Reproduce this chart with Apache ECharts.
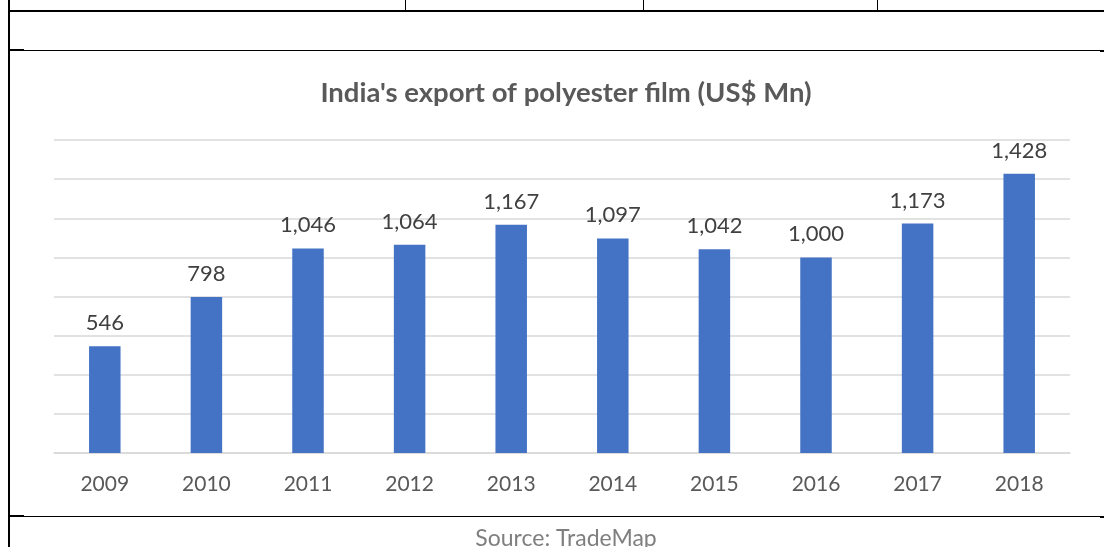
<!DOCTYPE html>
<html>
<head>
<meta charset="utf-8">
<script src="https://cdn.jsdelivr.net/npm/echarts@6/dist/echarts.min.js"></script>
<style>
  html, body { margin: 0; padding: 0; background: #fff; }
  #box { position: absolute; left: 0; top: 0; width: 1104px; height: 547px; }
  .ln { position: absolute; background: #000; }
</style>
</head>
<body>
<div id="box"></div>
<!-- table frame around the chart -->
<div class="ln" style="left:8px;top:0;width:2px;height:547px"></div>
<div class="ln" style="left:405px;top:0;width:1px;height:11px"></div>
<div class="ln" style="left:643px;top:0;width:1px;height:11px"></div>
<div class="ln" style="left:877px;top:0;width:1px;height:11px"></div>
<div class="ln" style="left:8px;top:10px;width:1096px;height:2px"></div>
<div class="ln" style="left:8px;top:50px;width:1096px;height:1px"></div>
<div class="ln" style="left:8px;top:49px;width:16px;height:2px"></div>
<div class="ln" style="left:1100px;top:50px;width:4px;height:2px"></div>
<div class="ln" style="left:8px;top:516px;width:1096px;height:1px"></div>
<div class="ln" style="left:8px;top:515px;width:16px;height:2px"></div>
<div class="ln" style="left:1100px;top:516px;width:4px;height:2px"></div>
<script>
var years = ['2009', '2010', '2011', '2012', '2013', '2014', '2015', '2016', '2017', '2018']
var exportsMn = [546, 798, 1046, 1064, 1167, 1097, 1042, 1000, 1173, 1428]

var chart = echarts.init(document.getElementById('box'), null, { renderer: 'canvas' })
var option = {
  backgroundColor: 'transparent',
  animation: false,
  title: [
    {
      text: "India's export of polyester film (US$ Mn)",
      left: 561,
      textAlign: 'center',
      top: 74,
      textStyle: { fontFamily: 'Lato', fontWeight: 'bold', fontSize: 27.5, color: '#595959' }
    },
    {
      text: 'Source: TradeMap',
      left: 561,
      textAlign: 'center',
      top: 522,
      textStyle: { fontFamily: 'Lato', fontWeight: 'normal', fontSize: 23, color: '#7f7f7f' }
    }
  ],
  grid: { left: 54, right: 34, top: 140, bottom: 94, containLabel: false },
  xAxis: {
    type: 'category',
    data: years,
    axisTick: { show: false },
    axisLine: { lineStyle: { color: '#d9d9d9', width: 1.5 } },
    axisLabel: { color: '#595959', fontFamily: 'Lato', fontSize: 21, margin: 21 }
  },
  yAxis: {
    type: 'value',
    min: 0,
    max: 1600,
    interval: 200,
    axisLabel: { show: false },
    axisLine: { show: false },
    axisTick: { show: false },
    splitLine: { lineStyle: { color: '#d9d9d9', width: 1.5 } }
  },
  series: [
    {
      type: 'bar',
      data: exportsMn,
      barWidth: '31%',
      itemStyle: { color: '#4472c4' },
      label: {
        show: true,
        position: 'top',
        distance: 12,
        color: '#404040',
        fontFamily: 'Lato',
        fontSize: 22,
        formatter: function (p) {
          return p.value.toLocaleString('en-US')
        }
      }
    }
  ]
}
chart.setOption(option)
</script>
</body>
</html>
